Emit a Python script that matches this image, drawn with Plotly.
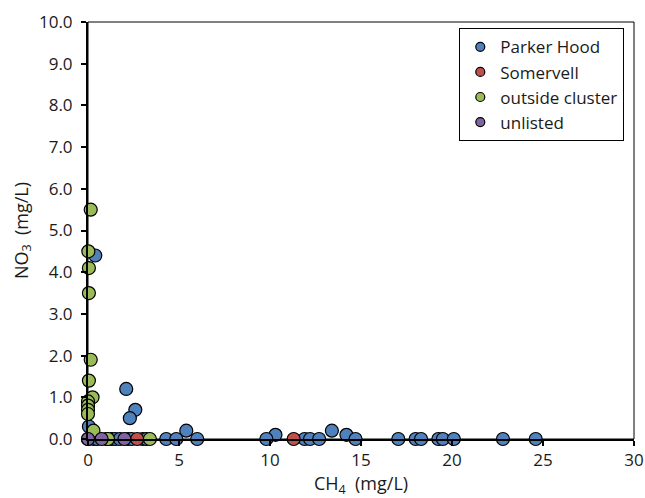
import plotly.graph_objects as go

# Parker Hood
ph_x = [0.4, 2.1, 2.6, 2.3, 0.05, 5.4, 10.3, 13.4, 14.2, 14.7,
        0.0, 0.3, 0.5, 1.0, 1.3, 1.5, 1.75, 2.2, 2.4, 3.0, 3.2, 4.3, 4.85, 6.0,
        9.8, 11.9, 12.2, 12.7, 17.05, 18.0, 18.3, 19.25, 19.5, 20.1, 22.8, 24.6]
ph_y = [4.4, 1.2, 0.7, 0.5, 0.3, 0.2, 0.1, 0.2, 0.1, 0.0,
        0.0, 0.0, 0.0, 0.0, 0.0, 0.0, 0.0, 0.0, 0.0, 0.0, 0.0, 0.0, 0.0, 0.0,
        0.0, 0.0, 0.0, 0.0, 0.0, 0.0, 0.0, 0.0, 0.0, 0.0, 0.0, 0.0]
# Somervell
so_x = [2.7, 11.3]
so_y = [0.0, 0.0]
# outside cluster
oc_x = [0.15, 0.02, 0.05, 0.05, 0.15, 0.05, 0.25, 0.0, 0.0, 0.0, 0.0, 0.3, 1.1, 3.4]
oc_y = [5.5, 4.5, 4.1, 3.5, 1.9, 1.4, 1.0, 0.9, 0.8, 0.7, 0.6, 0.2, 0.0, 0.0]
# unlisted
un_x = [0.0, 0.75, 2.0]
un_y = [0.0, 0.0, 0.0]

x_ticks = [0, 5, 10, 15, 20, 25, 30]
y_ticks = [0, 1, 2, 3, 4, 5, 6, 7, 8, 9, 10]

FONT = "Open Sans"
TXT = "#1a1a1a"

series = [
    ("Parker Hood", ph_x, ph_y, "#4F81BD"),
    ("Somervell", so_x, so_y, "#C0504D"),
    ("outside cluster", oc_x, oc_y, "#9BBB59"),
    ("unlisted", un_x, un_y, "#8064A2"),
]

fig = go.Figure()
for name, xs, ys, col in series:
    fig.add_trace(go.Scatter(
        x=xs, y=ys, mode="markers", name=name, cliponaxis=False, showlegend=False,
        marker=dict(size=13, color=col, line=dict(color="black", width=1.2)),
    ))
# legend entries (smaller swatches, as in the reference)
for name, xs, ys, col in series:
    fig.add_trace(go.Scatter(
        x=[None], y=[None], mode="markers", name=name, showlegend=True,
        marker=dict(size=9, color=col, line=dict(color="black", width=1.2)),
    ))

axis_common = dict(
    showgrid=False, zeroline=False, showline=True, linecolor="black", linewidth=2,
    ticks="outside", ticklen=5, tickwidth=1.5, tickcolor="black", automargin=False,
    tickfont=dict(family=FONT, size=17, color=TXT), ticklabeloverflow="allow",
)

fig.update_layout(
    width=645, height=498,
    margin=dict(l=88, r=11, t=22, b=59),
    paper_bgcolor="white", plot_bgcolor="white",
    font=dict(family=FONT, color=TXT),
    xaxis=dict(range=[0, 30], tickvals=x_ticks, ticktext=[str(v) for v in x_ticks],
               title=dict(text="CH<sub>4</sub>  (mg/L)", font=dict(family=FONT, size=18, color=TXT), standoff=11),
               **axis_common),
    yaxis=dict(range=[0, 10], tickvals=y_ticks, ticktext=[f"{v:.1f}" for v in y_ticks],
               ticklabelstandoff=5,
               title=dict(text="NO<sub>3</sub>  (mg/L)", font=dict(family=FONT, size=18, color=TXT), standoff=6),
               **axis_common),
    legend=dict(x=0.680, y=0.985, xanchor="left", yanchor="top",
                bordercolor="black", borderwidth=1, bgcolor="white",
                font=dict(family=FONT, size=17, color=TXT),
                itemwidth=30, tracegroupgap=0),
    showlegend=True,
    shapes=[dict(type="rect", xref="paper", yref="paper", x0=0, y0=0, x1=1, y1=1,
                 line=dict(color="black", width=1), layer="below")],
)

fig.write_html(
    "out.html",
    config={"displayModeBar": False},
    post_script="document.body.style.margin='0';document.body.style.overflow='hidden';",
)
